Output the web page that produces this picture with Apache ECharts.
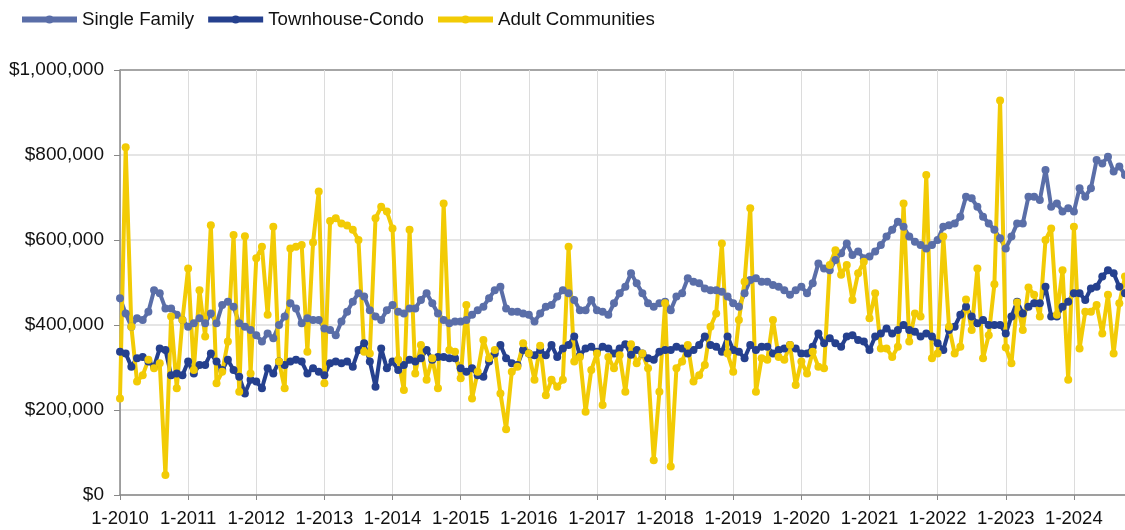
<!DOCTYPE html>
<html>
<head>
<meta charset="utf-8">
<script src="https://cdn.jsdelivr.net/npm/echarts@6/dist/echarts.min.js"></script>
<style>
  html, body { margin: 0; padding: 0; background: #fff; }
  #main { width: 1125px; height: 530px; }
</style>
</head>
<body>
<div id="main"></div>
<script>
// months Jan 2010 .. Oct 2024, label "m-yyyy"
var months = [];
for (var y = 2010; y <= 2024; y++) {
    for (var m = 1; m <= 12; m++) {
        if (y === 2024 && m > 10) break;
        months.push(m + '-' + y);
    }
}

// median prices, thousands of dollars
var singleFamily = [
    463,427,396,416,412,431,482,475,439,439, 424,412,396,404,416,404,427,404,447,455,
    443,404,396,388,376,361,380,369,400,420, 451,439,404,416,412,412,392,388,376,408,
    431,455,475,467,435,420,412,435,447,431, 427,439,439,459,475,451,427,412,404,408,
    408,412,424,435,443,463,482,490,439,431, 431,427,424,408,427,443,447,467,482,475,
    459,435,435,459,435,431,424,451,475,490, 522,498,475,451,443,451,455,435,467,475,
    510,502,498,486,482,482,478,467,451,443, 475,506,510,502,502,494,490,482,471,482,
    490,475,498,545,533,529,553,569,592,565, 573,557,561,573,588,608,624,643,631,608,
    596,588,580,588,600,631,635,639,655,702, 698,678,655,639,624,604,580,608,639,639,
    702,702,694,765,678,686,667,675,667,722, 702,722,788,780,796,761,773,753
];
var townhouseCondo = [
    337,333,302,322,325,314,302,345,341,282, 286,282,314,286,306,306,333,314,294,318,
    294,278,239,271,267,251,298,286,314,306, 314,318,314,286,298,290,282,310,314,310,
    314,302,341,357,314,255,345,298,314,294, 306,318,314,322,341,318,325,325,322,322,
    298,290,298,282,278,314,333,353,322,310, 306,341,333,329,341,329,353,325,345,353,
    373,329,345,349,337,349,345,333,345,355, 330,341,333,322,318,337,341,341,349,345,
    333,341,353,373,353,349,337,373,341,337, 322,353,341,349,349,333,341,345,353,345,
    333,333,349,380,357,369,357,349,373,376, 365,361,341,373,380,392,380,388,400,388,
    384,373,380,373,357,341,388,396,424,443, 420,404,412,400,400,400,380,420,455,427,
    443,451,451,490,420,420,443,455,475,475, 459,486,490,514,529,522,490,475
];
var adultCommunities = [
    227,818,396,267,282,318,298,310,47,420, 251,412,533,294,482,373,635,263,290,361,
    612,243,609,286,557,584,424,631,314,251, 580,584,588,337,594,714,263,645,651,639,
    634,624,600,337,333,651,678,667,627,318, 247,624,286,353,271,322,251,686,341,337,
    275,447,227,290,365,322,341,239,155,290, 302,357,333,271,351,235,271,255,271,584,
    314,325,196,294,333,212,325,298,329,243, 355,310,333,298,82,243,451,67,298,314,
    353,267,282,306,396,427,592,333,290,412, 502,675,243,322,318,412,325,318,353,259,
    314,286,337,302,298,541,576,518,541,459, 522,549,416,475,345,345,325,349,686,361,
    427,420,753,322,333,608,396,333,349,460, 388,533,322,376,496,928,347,310,453,388,
    488,471,420,600,627,424,529,271,631,345, 431,431,447,380,471,333,451,514
];

var seriesNames = ['Single Family', 'Townhouse-Condo', 'Adult Communities'];
var seriesColors = ['#5a6ea8', '#25408e', '#f2cb05'];
var yTicks = [0, 200, 400, 600, 800, 1000];

function isJan(index) { return index % 12 === 0; }

var myChart = echarts.init(document.getElementById('main'));

var font = 'Liberation Sans, Arial, Helvetica, sans-serif';

function makeSeries(name, data, color) {
    return {
        name: name,
        type: 'line',
        data: data,
        symbol: 'circle',
        symbolSize: 8,
        showSymbol: true,
        showAllSymbol: true,
        lineStyle: { width: 4, color: color },
        itemStyle: { color: color },
        emphasis: { disabled: true }
    };
}

var option = {
    animation: false,
    color: seriesColors,
    textStyle: { fontFamily: font },
    legend: {
        left: 14,
        top: 5,
        itemWidth: 55,
        itemHeight: 10,
        itemGap: 11,
        lineStyle: { width: 6 },
        textStyle: { fontSize: 18.7, color: '#111', fontFamily: font },
        data: seriesNames
    },
    grid: {
        left: 120,
        right: 0,
        top: 70,
        bottom: 35,
        containLabel: false
    },
    xAxis: {
        type: 'category',
        data: months,
        boundaryGap: false,
        axisLine: { lineStyle: { color: '#888', width: 1.5 } },
        axisTick: { show: true, interval: function (i) { return isJan(i); }, length: 5, lineStyle: { color: '#888' } },
        axisLabel: {
            interval: function (i) { return isJan(i); },
            fontSize: 18.5,
            color: '#111',
            margin: 14,
            fontFamily: font
        },
        splitLine: {
            show: true,
            interval: function (i) { return isJan(i); },
            lineStyle: { color: '#dcdcdc', width: 1 }
        }
    },
    yAxis: {
        type: 'value',
        min: yTicks[0],
        max: yTicks[yTicks.length - 1],
        interval: 200,
        axisLine: { show: true, lineStyle: { color: '#888', width: 1.5 } },
        axisTick: { show: true, length: 6, lineStyle: { color: '#888' } },
        axisLabel: {
            fontSize: 19,
            color: '#111',
            margin: 16,
            fontFamily: font,
            formatter: function (v) {
                return '$' + (v * 1000).toLocaleString('en-US');
            }
        },
        splitLine: {
            show: true,
            lineStyle: {
                color: ['#dcdcdc', '#dcdcdc', '#dcdcdc', '#dcdcdc', '#dcdcdc', '#888'],
                width: 1.5
            }
        }
    },
    series: [
        makeSeries(seriesNames[0], singleFamily, seriesColors[0]),
        makeSeries(seriesNames[1], townhouseCondo, seriesColors[1]),
        makeSeries(seriesNames[2], adultCommunities, seriesColors[2])
    ]
};

myChart.setOption(option);
</script>
</body>
</html>
